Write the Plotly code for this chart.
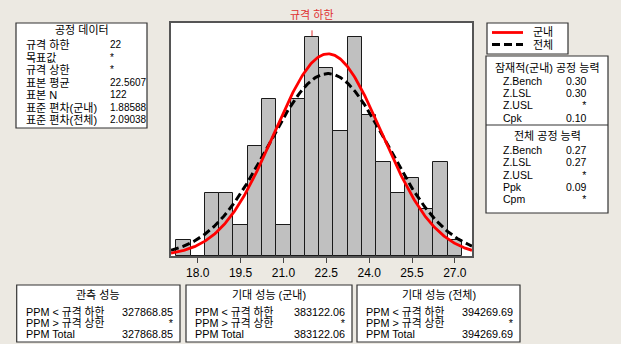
import numpy as np
import plotly.graph_objects as go

# ---------------- data ----------------
bin_centers = [17.5, 18.0, 18.5, 19.0, 19.5, 20.0, 20.5, 21.0, 21.5, 22.0,
               22.5, 23.0, 23.5, 24.0, 24.5, 25.0, 25.5, 26.0, 26.5, 27.0]
counts = [1, 0, 4, 4, 2, 7, 10, 2, 10, 14, 12, 8, 14, 9, 6, 4, 5, 3, 6, 1]
bin_width = 0.5
tick_vals = [18.0, 19.5, 21.0, 22.5, 24.0, 25.5, 27.0]
tick_text = ["18.0", "19.5", "21.0", "22.5", "24.0", "25.5", "27.0"]

lsl = 22
sample_mean = 22.5607
sample_n = 122
sd_within = 1.88588
sd_overall = 2.09038

process_labels = ["규격 하한", "목표값", "규격 상한", "표본 평균", "표본 N", "표준 편차(군내)", "표준 편차(전체)"]
process_values = ["22", "*", "*", "22.5607", "122", "1.88588", "2.09038"]

within_labels = ["Z.Bench", "Z.LSL", "Z.USL", "Cpk"]
within_values = ["0.30", "0.30", "*", "0.10"]
overall_labels = ["Z.Bench", "Z.LSL", "Z.USL", "Ppk", "Cpm"]
overall_values = ["0.27", "0.27", "*", "0.09", "*"]

perf_titles = ["관측 성능", "기대 성능 (군내)", "기대 성능 (전체)"]
perf_labels = ["PPM < 규격 하한", "PPM > 규격 상한", "PPM Total"]
perf_values = [["327868.85", "*", "327868.85"],
               ["383122.06", "*", "383122.06"],
               ["394269.69", "*", "394269.69"]]

# ---------------- geometry helpers ----------------
W, H = 621, 344
def px(x):
    return x / W
def py(y):
    return 1 - y / H

X_RANGE = [17.065, 27.60]
Y_RANGE = [0, 14.87]

FONT = "Liberation Sans, Arial, Noto Sans CJK KR, sans-serif"

fig = go.Figure()

fig.add_trace(go.Bar(
    x=bin_centers, y=counts, width=bin_width,
    marker=dict(color="#C0C0C0", line=dict(color="#1a1a1a", width=1)),
    hoverinfo="skip", showlegend=False,
))

xs = np.linspace(X_RANGE[0], X_RANGE[1], 400)
scale = sample_n * bin_width
def normal_curve(mu, sd):
    return scale * np.exp(-0.5 * ((xs - mu) / sd) ** 2) / (sd * np.sqrt(2 * np.pi))

fig.add_trace(go.Scatter(x=xs, y=normal_curve(sample_mean, sd_overall), mode="lines",
                         line=dict(color="black", width=3, dash="8px,4px"),
                         showlegend=False, hoverinfo="skip"))
fig.add_trace(go.Scatter(x=xs, y=normal_curve(sample_mean, sd_within), mode="lines",
                         line=dict(color="#FF0000", width=2.8),
                         showlegend=False, hoverinfo="skip"))

shapes = []
annotations = []

# LSL reference line
shapes.append(dict(type="line", xref="x", yref="y", x0=lsl, x1=lsl, y0=0, y1=14.4,
                   line=dict(color="#E03030", width=1), layer="below"))
annotations.append(dict(xref="x", yref="paper", x=lsl, y=py(14.5), text="규격 하한",
                        showarrow=False, xanchor="center", yanchor="middle",
                        font=dict(family=FONT, size=11, color="#E03030")))

def box(x0, y0, x1, y1):
    shapes.append(dict(type="rect", xref="paper", yref="paper",
                       x0=px(x0), x1=px(x1), y0=py(y1), y1=py(y0),
                       fillcolor="white", line=dict(color="#333333", width=1.2)))

def text(x, y, s, anchor="left", size=11, color="black"):
    annotations.append(dict(xref="paper", yref="paper", x=px(x), y=py(y), text=s,
                            showarrow=False, xanchor=anchor, yanchor="middle",
                            font=dict(family=FONT, size=size, color=color)))

def column(x, y_first, spacing, items, anchor="left", size=10.5):
    """Multi-line block; line spacing = 1.3 * base font size."""
    base = spacing / 1.3
    body = "<br>".join("<span style='font-size:%.1fpx'>%s</span>" % (size, s) for s in items)
    y_mid = y_first + spacing * (len(items) - 1) / 2
    annotations.append(dict(xref="paper", yref="paper", x=px(x), y=py(y_mid), text=body,
                            showarrow=False, xanchor=anchor, yanchor="middle", align=anchor,
                            borderpad=0,
                            font=dict(family=FONT, size=base, color="black")))

# Process data box
box(16, 23, 147, 128)
text(81.5, 30, "공정 데이터", "center")
column(25, 44.3, 12.5, process_labels, "left", 11)
column(109, 44.3, 12.5, process_values, "left", 10)

# Legend box
box(487, 23, 568, 54)
shapes.append(dict(type="line", xref="paper", yref="paper", x0=px(492), x1=px(523),
                   y0=py(32.5), y1=py(32.5), line=dict(color="#FF0000", width=2.8)))
shapes.append(dict(type="line", xref="paper", yref="paper", x0=px(492), x1=px(523),
                   y0=py(44.5), y1=py(44.5), line=dict(color="black", width=3, dash="8px,4px")))
text(531, 32, "군내")
text(531, 44.5, "전체")

# Capability box
box(486, 56, 608, 213)
shapes.append(dict(type="line", xref="paper", yref="paper", x0=px(486), x1=px(608),
                   y0=py(125), y1=py(125), line=dict(color="#333333", width=1.2)))
text(547, 67.5, "잠재적(군내) 공정 능력", "center")
column(502, 81, 12.2, within_labels, "left", 10.5)
column(588, 81, 12.2, within_values, "right", 10.5)
text(547, 136, "전체 공정 능력", "center")
column(502, 150, 12.3, overall_labels, "left", 10.5)
column(588, 150, 12.3, overall_values, "right", 10.5)

# Performance boxes
perf_boxes = [(16.7, 180), (186, 352), (357, 520)]
for (bx0, bx1), title, vals in zip(perf_boxes, perf_titles, perf_values):
    box(bx0, 285, bx1, 342)
    text((bx0 + bx1) / 2, 294.5, title, "center")
    column(bx0 + 8, 311.5, 11, perf_labels, "left", 10.8)
    column(bx1 - 5, 311.5, 11, vals, "right", 10.8)

fig.update_layout(
    width=W, height=H,
    margin=dict(l=0, r=0, t=0, b=0),
    paper_bgcolor="#ECE9E2",
    plot_bgcolor="white",
    bargap=0,
    shapes=shapes,
    annotations=annotations,
    xaxis=dict(domain=[px(171), px(472)], range=X_RANGE,
               tickvals=tick_vals, ticktext=tick_text,
               showline=True, mirror=True, linecolor="#555555", linewidth=1.5,
               ticks="outside", ticklen=5, tickcolor="#444444",
               showgrid=False, zeroline=False,
               tickfont=dict(family="Liberation Sans, Arial, sans-serif", size=12, color="black")),
    yaxis=dict(domain=[py(256), py(23)], range=Y_RANGE,
               showticklabels=False, ticks="",
               showline=True, mirror=True, linecolor="#555555", linewidth=1.5,
               showgrid=False, zeroline=False),
)

fig.write_html("out.html")
